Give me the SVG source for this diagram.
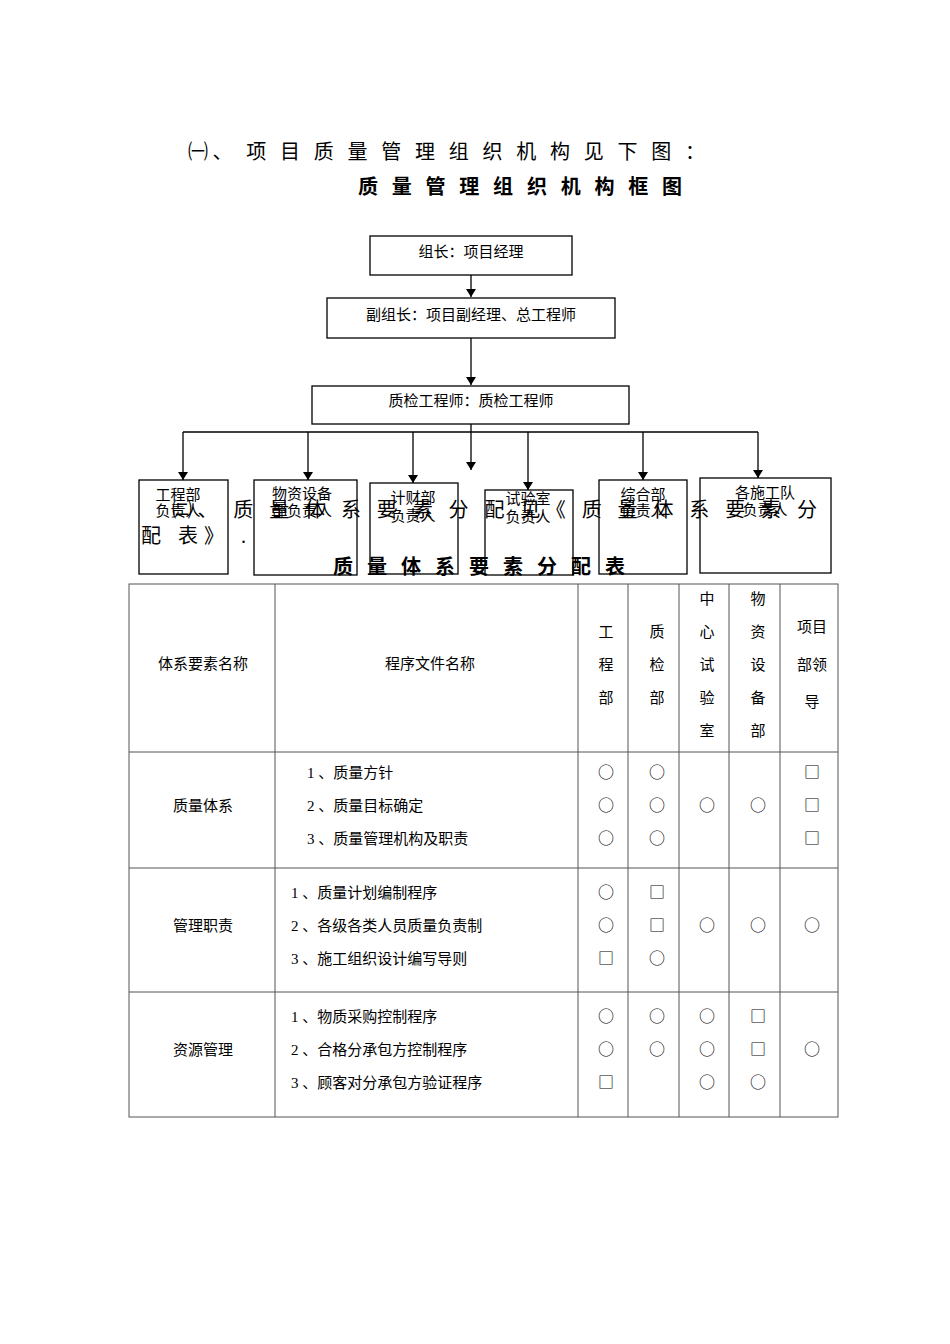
<svg xmlns="http://www.w3.org/2000/svg" width="950" height="1344" viewBox="0 0 950 1344">
<defs><marker id="m" markerWidth="8" markerHeight="10" refX="8" refY="5" orient="auto" markerUnits="userSpaceOnUse"><path d="M0,0 L8,5 L0,10 Z" fill="#000"/></marker></defs>
<style>
text{font-family:"Liberation Serif","Noto Sans CJK SC",serif;fill:#000}
.n{font-size:15px}
.b{font-size:20px;font-weight:bold}
.h{font-size:20px}
.t{font-size:15px}
.s text{font-family:"Noto Sans CJK SC",sans-serif;font-size:16px}
rect{fill:none;stroke:#000;stroke-width:1.3}
.c line{stroke:#000;stroke-width:1.3;fill:none}
.g line{stroke:#555;stroke-width:1}
</style>
<rect width="950" height="1344" style="fill:#fff;stroke:none"/>
<text class="h" x="188" y="159" textLength="517" lengthAdjust="spacing">㈠、 项 目 质 量 管 理 组 织 机 构 见 下 图 ：</text>
<text class="b" x="358" y="194" textLength="324" lengthAdjust="spacing">质 量 管 理 组 织 机 构 框 图</text>
<g id="n1"><rect x="370" y="236" width="202" height="39"/><text class="n" x="471" y="257" text-anchor="middle">组长：项目经理</text></g>
<g id="n2"><rect x="327" y="298" width="288" height="40"/><text class="n" x="471" y="320" text-anchor="middle">副组长：项目副经理、总工程师</text></g>
<g id="n3"><rect x="312" y="386" width="317" height="38"/><text class="n" x="471" y="406" text-anchor="middle">质检工程师：质检工程师</text></g>
<g class="c" id="connectors">
<line x1="471" y1="275" x2="471" y2="297" marker-end="url(#m)"/>
<line x1="471" y1="338" x2="471" y2="385" marker-end="url(#m)"/>
<line x1="471" y1="424" x2="471" y2="470" marker-end="url(#m)"/>
<line x1="183" y1="432" x2="758" y2="432"/>
<line x1="183" y1="432" x2="183" y2="480" marker-end="url(#m)"/>
<line x1="308" y1="432" x2="308" y2="480" marker-end="url(#m)"/>
<line x1="413" y1="432" x2="413" y2="483" marker-end="url(#m)"/>
<line x1="528" y1="432" x2="528" y2="490" marker-end="url(#m)"/>
<line x1="643" y1="432" x2="643" y2="480" marker-end="url(#m)"/>
<line x1="758" y1="432" x2="758" y2="478" marker-end="url(#m)"/>
</g>
<g id="d1"><rect x="139" y="480" width="89" height="94"/><text class="n" x="178" y="500" text-anchor="middle">工程部</text><text class="n" x="178" y="516" text-anchor="middle">负责人</text></g>
<g id="d2"><rect x="254" y="480" width="103" height="95"/><text class="n" x="302" y="499" text-anchor="middle">物资设备</text><text class="n" x="302" y="516" text-anchor="middle">部负责人</text></g>
<g id="d3"><rect x="370" y="483" width="88" height="91"/><text class="n" x="413" y="503" text-anchor="middle">计财部</text><text class="n" x="413" y="521" text-anchor="middle">负责人</text></g>
<g id="d4"><rect x="485" y="490" width="88" height="85"/><text class="n" x="528" y="504" text-anchor="middle">试验室</text><text class="n" x="528" y="522" text-anchor="middle">负责人</text></g>
<g id="d5"><rect x="599" y="480" width="88" height="94"/><text class="n" x="643" y="500" text-anchor="middle">综合部</text><text class="n" x="643" y="516" text-anchor="middle">负责人</text></g>
<g id="d6"><rect x="700" y="478" width="131" height="95"/><text class="n" x="765" y="498" text-anchor="middle">各施工队</text><text class="n" x="765" y="515" text-anchor="middle">负责人</text></g>
<text class="h" x="172" y="517" textLength="645" lengthAdjust="spacing">㈡、 质 量 体 系 要 素 分 配 见《 质 量 体 系 要 素 分</text>
<text class="h" x="141" y="543" textLength="105" lengthAdjust="spacing">配 表》 .</text>
<text class="b" x="333" y="574" textLength="292" lengthAdjust="spacing">质 量 体 系 要 素 分 配 表</text>
<g class="g" id="table">
<rect x="129" y="584" width="709" height="533" style="stroke:#555;stroke-width:1"/>
<line x1="275" y1="584" x2="275" y2="1117"/><line x1="578" y1="584" x2="578" y2="1117"/><line x1="628" y1="584" x2="628" y2="1117"/><line x1="679" y1="584" x2="679" y2="1117"/><line x1="729" y1="584" x2="729" y2="1117"/><line x1="780" y1="584" x2="780" y2="1117"/>
<line x1="129" y1="752" x2="838" y2="752"/><line x1="129" y1="868" x2="838" y2="868"/><line x1="129" y1="992" x2="838" y2="992"/>
</g>
<g class="t" text-anchor="middle">
<text x="203" y="669">体系要素名称</text><text x="430" y="669">程序文件名称</text>
<text x="606" y="637">工</text><text x="606" y="670">程</text><text x="606" y="703">部</text>
<text x="657" y="637">质</text><text x="657" y="670">检</text><text x="657" y="703">部</text>
<text x="707" y="604">中</text><text x="707" y="637">心</text><text x="707" y="670">试</text><text x="707" y="703">验</text><text x="707" y="736">室</text>
<text x="758" y="604">物</text><text x="758" y="637">资</text><text x="758" y="670">设</text><text x="758" y="703">备</text><text x="758" y="736">部</text>
<text x="812" y="632">项目</text><text x="812" y="670">部领</text><text x="812" y="707">导</text>
<text x="203" y="811">质量体系</text><text x="203" y="931">管理职责</text><text x="203" y="1055">资源管理</text>
</g>
<g class="t">
<text x="307" y="778">1 、质量方针</text><text x="307" y="811">2 、质量目标确定</text><text x="307" y="844">3 、质量管理机构及职责</text>
<text x="291" y="898">1 、质量计划编制程序</text><text x="291" y="931">2 、各级各类人员质量负责制</text><text x="291" y="964">3 、施工组织设计编写导则</text>
<text x="291" y="1022">1 、物质采购控制程序</text><text x="291" y="1055">2 、合格分承包方控制程序</text><text x="291" y="1088">3 、顾客对分承包方验证程序</text>
</g>
<g class="s" text-anchor="middle">
<text x="606" y="778">○</text><text x="606" y="811">○</text><text x="606" y="844">○</text>
<text x="657" y="778">○</text><text x="657" y="811">○</text><text x="657" y="844">○</text>
<text x="707" y="811">○</text><text x="758" y="811">○</text>
<text x="812" y="778">□</text><text x="812" y="811">□</text><text x="812" y="844">□</text>
<text x="606" y="898">○</text><text x="606" y="931">○</text><text x="606" y="964">□</text>
<text x="657" y="898">□</text><text x="657" y="931">□</text><text x="657" y="964">○</text>
<text x="707" y="931">○</text><text x="758" y="931">○</text><text x="812" y="931">○</text>
<text x="606" y="1022">○</text><text x="606" y="1055">○</text><text x="606" y="1088">□</text>
<text x="657" y="1022">○</text><text x="657" y="1055">○</text>
<text x="707" y="1022">○</text><text x="707" y="1055">○</text><text x="707" y="1088">○</text>
<text x="758" y="1022">□</text><text x="758" y="1055">□</text><text x="758" y="1088">○</text>
<text x="812" y="1055">○</text>
</g>
</svg>
